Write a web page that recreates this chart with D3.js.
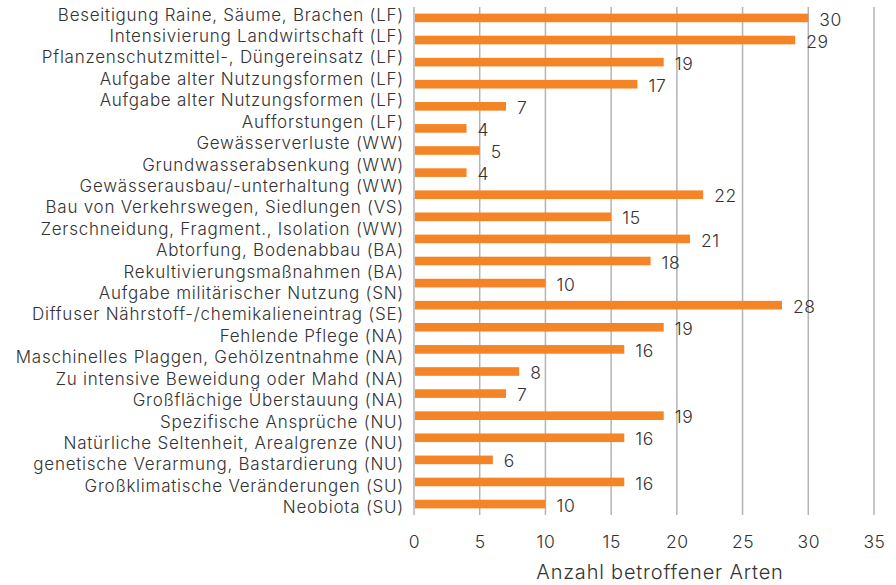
<!DOCTYPE html>
<html>
<head>
<meta charset="utf-8">
<script src="https://cdn.jsdelivr.net/npm/d3@7"></script>
<style>
  body { margin: 0; background: #fff; }
  text { font-family: Inter, Lato, sans-serif; font-weight: 300; fill: #333333; }
</style>
</head>
<body>
<div id="chart"></div>
<script>
// category labels as printed (24 rows)
const categories = [
    "Beseitigung Raine, Säume, Brachen (LF)",
    "Intensivierung Landwirtschaft (LF)",
    "Pflanzenschutzmittel-, Düngereinsatz (LF)",
    "Aufgabe alter Nutzungsformen (LF)",
    "Aufgabe alter Nutzungsformen (LF)",
    "Aufforstungen (LF)",
    "Gewässerverluste (WW)",
    "Grundwasserabsenkung (WW)",
    "Gewässerausbau/-unterhaltung (WW)",
    "Bau von Verkehrswegen, Siedlungen (VS)",
    "Zerschneidung, Fragment., Isolation (WW)",
    "Abtorfung, Bodenabbau (BA)",
    "Rekultivierungsmaßnahmen (BA)",
    "Aufgabe militärischer Nutzung (SN)",
    "Diffuser Nährstoff-/chemikalieneintrag (SE)",
    "Fehlende Pflege (NA)",
    "Maschinelles Plaggen, Gehölzentnahme (NA)",
    "Zu intensive Beweidung oder Mahd (NA)",
    "Großflächige Überstauung (NA)",
    "Spezifische Ansprüche (NU)",
    "Natürliche Seltenheit, Arealgrenze (NU)",
    "genetische Verarmung, Bastardierung (NU)",
    "Großklimatische Veränderungen (SU)",
    "Neobiota (SU)"
];

// bar values as drawn (23 bars)
const values = [30, 29, 19, 17, 7, 4, 5, 4, 22, 15, 21, 18, 10, 28, 19, 16, 8, 7, 19, 16, 6, 16, 10];

const xTicks = [0, 5, 10, 15, 20, 25, 30, 35];
const xTitle = "Anzahl betroffener Arten";

const width = 896, height = 585;
const plotLeft = 414, plotRight = 874, plotTop = 7, plotBottom = 515;

const svg = d3.select("#chart").append("svg")
    .attr("width", width)
    .attr("height", height);

const x = d3.scaleLinear().domain([0, 35]).range([plotLeft, plotRight]);

// labels sit on their own band of 24 rows
const yLabel = d3.scaleBand()
    .domain(d3.range(categories.length))
    .range([4, 518]);

// bars on 23 rows
const yBar = d3.scaleBand()
    .domain(d3.range(values.length))
    .range([plotTop, plotBottom])
    .paddingInner(0.61)
    .paddingOuter(0.3);

// vertical gridlines
svg.append("g")
    .selectAll("line")
    .data(xTicks)
    .enter()
    .append("line")
    .attr("x1", (d) => x(d))
    .attr("x2", (d) => x(d))
    .attr("y1", plotTop)
    .attr("y2", plotBottom)
    .attr("stroke", "#b3b3b8")
    .attr("stroke-width", 1.5);

// bars
svg.append("g")
    .selectAll("rect")
    .data(values)
    .enter()
    .append("rect")
    .attr("x", x(0) + 1)
    .attr("y", (d, i) => yBar(i))
    .attr("width", (d) => x(d) - x(0) - 1)
    .attr("height", yBar.bandwidth())
    .attr("fill", "#f58426");

// value labels
svg.append("g")
    .selectAll("text")
    .data(values)
    .enter()
    .append("text")
    .attr("x", (d) => x(d) + 11)
    .attr("y", (d, i) => yBar(i) + yBar.bandwidth() / 2 + 1.5)
    .attr("dy", "0.35em")
    .style("font-size", "17.5px")
    .style("letter-spacing", "0.6px")
    .text((d) => d);

// category labels
svg.append("g")
    .selectAll("text")
    .data(categories)
    .enter()
    .append("text")
    .attr("x", 404)
    .attr("y", (d, i) => yLabel(i) + yLabel.bandwidth() / 2)
    .attr("dy", "0.35em")
    .attr("text-anchor", "end")
    .style("font-size", "17px")
    .style("letter-spacing", "0.75px")
    .text((d) => d);

// x axis tick labels
const xAxis = d3.axisBottom(x)
    .tickValues(xTicks)
    .tickSize(0)
    .tickPadding(0);

const gx = svg.append("g")
    .attr("transform", `translate(0, ${plotBottom})`)
    .call(xAxis);

gx.select(".domain").remove();
gx.selectAll("text")
    .attr("y", 27)
    .attr("dy", "0.35em")
    .style("font-size", "17.5px")
    .style("letter-spacing", "0.6px")
    .style("font-family", "Inter, Lato, sans-serif")
    .style("font-weight", 300)
    .attr("fill", "#333333");

// axis title
svg.append("text")
    .attr("x", 660)
    .attr("y", 579)
    .attr("text-anchor", "middle")
    .style("font-size", "20px")
    .style("letter-spacing", "0.8px")
    .text(xTitle);
</script>
</body>
</html>
